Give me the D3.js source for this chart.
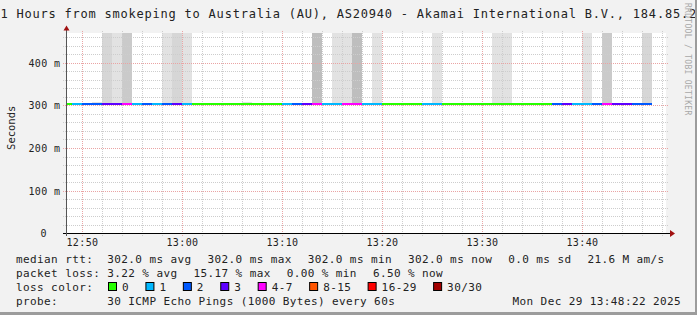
<!DOCTYPE html>
<html>
<head>
<meta charset="utf-8">
<title>smokeping</title>
<script src="https://cdn.jsdelivr.net/npm/d3@7"></script>
<style>
    body { margin: 0; background: #f2f2f2; }
    svg { display: block; font-family: "DejaVu Sans Mono", monospace; }
    text { white-space: pre; }
</style>
</head>
<body>
<svg id="chart" width="697" height="315"></svg>
<script>
// graph window
const startTime = new Date(2025, 11, 29, 12, 48, 22);
const endTime = new Date(2025, 11, 29, 13, 48, 22);

// one value per minute step, steps ending 12:49 ... 13:47
const firstStepEnd = new Date(2025, 11, 29, 12, 49);
const lastStepEnd = new Date(2025, 11, 29, 13, 47);

const medianRtt = [
    0.302, 0.302, 0.302, 0.302, 0.302, 0.302, 0.302, 0.302, 0.302, 0.302,
    0.302, 0.302, 0.302, 0.302, 0.302, 0.302, 0.302, 0.302, 0.302, 0.302,
    0.302, 0.302, 0.302, 0.302, 0.302, 0.302, 0.302, 0.302, 0.302, 0.302,
    0.302, 0.302, 0.302, 0.302, 0.302, 0.302, 0.302, 0.302, 0.302, 0.302,
    0.302, 0.302, 0.302, 0.302, 0.302, 0.302, 0.302, 0.302, 0.302, 0.302,
    0.302, 0.302, 0.302, 0.302, 0.302, 0.302, 0.302, 0.302, 0.302
];

// lost pings out of 30
const lossPings = [
    0, 1, 2, 2, 3, 3, 4, 1, 2, 1,
    2, 3, 1, 0, 0, 0, 0, 0, 0, 0,
    0, 0, 1, 2, 3, 5, 1, 1, 4, 4,
    1, 1, 0, 0, 0, 0, 1, 1, 0, 0,
    0, 0, 0, 0, 0, 0, 0, 0, 0, 2,
    3, 1, 1, 2, 4, 3, 3, 2, 2
];

// smoke: steps with spread pings, top of spread (s) and pings in it
const smokeSteps = ["12:52", "12:53", "12:54", "12:55", "12:59", "13:00", "13:01", "13:07", "13:14", "13:16",
                    "13:17", "13:18", "13:20", "13:26", "13:32", "13:33", "13:41", "13:43", "13:47"];
const smokeTop = [0.307, 0.9, 0.9, 0.9, 0.9, 0.9, 0.9, 0.307, 0.9, 0.9,
                  0.9, 0.9, 0.9, 0.9, 0.9, 0.9, 0.9, 0.9, 0.9];
const smokeCount = [1, 2, 1, 3, 1, 2, 1, 1, 4, 1,
                    1, 4, 1, 1, 1, 1, 1, 3, 2];

const yMax = 0.4695;
const yTicks = [0, 0.1, 0.2, 0.3, 0.4];
const yTickLabels = ["0", "100 m", "200 m", "300 m", "400 m"];

const lossThresholds = [1, 2, 3, 4, 8, 16, 30];
const lossLabels = ["0", "1", "2", "3", "4-7", "8-15", "16-29", "30/30"];
const lossColors = ["#26ff00", "#00b8ff", "#0059ff", "#5e00ff", "#ff00ff", "#ff5500", "#ff0000", "#a10000"];

const titleText = "1 Hours from smokeping to Australia (AU), AS20940 - Akamai International B.V., 184.85.2";
const rttLegend = ["median rtt:", "302.0 ms avg", "302.0 ms max", "302.0 ms min", "302.0 ms now", "0.0 ms sd", "21.6 M am/s"];
const lossLegend = ["packet loss:", "3.22 % avg", "15.17 % max", "0.00 % min", "6.50 % now"];
const probeLegend = ["probe:", "30 ICMP Echo Pings (1000 Bytes) every 60s"];
const dateText = "Mon Dec 29 13:48:22 2025";


/** Class drawing the smokeping graph. */
class SmokeGraph {
    /**
     * Creates the graph object
     */
    constructor() {
        this.svg = d3.select("svg#chart");
        this.left = 66;
        this.right = 666;
        this.top = 33;
        this.bottom = 233.3;
        this.x = d3.scaleTime().domain([startTime, endTime]).range([this.left, this.right]);
        this.y = d3.scaleLinear().domain([0, yMax]).range([this.bottom, this.top]);
        this.lossColor = d3.scaleThreshold().domain(lossThresholds).range(lossColors);
        this.steps = d3.timeMinute.range(firstStepEnd, d3.timeMinute.offset(lastStepEnd, 1));
        this.adv = 7.02; // legend character advance
    }

    /**
     * Turns "HH:MM" into a date of the graph day
     */
    stepDate(s) {
        let p = s.split(":");
        return new Date(2025, 11, 29, +p[0], +p[1]);
    }

    /**
     * Background, plot area and frame
     */
    drawFrame() {
        this.svg.append("rect").attr("width", 697).attr("height", 315).attr("fill", "#f2f2f2");
        this.svg.append("rect")
            .attr("x", this.left).attr("y", this.top)
            .attr("width", this.right - this.left).attr("height", this.bottom - this.top)
            .attr("fill", "#ffffff");
        this.svg.append("defs").append("clipPath").attr("id", "plot")
            .append("rect")
            .attr("x", this.left).attr("y", this.top)
            .attr("width", this.right - this.left).attr("height", this.bottom - this.top);
    }

    /**
     * Grey smoke columns above the median
     */
    drawSmoke() {
        let x = this.x, y = this.y;
        let shade = d3.scaleLinear().domain([1, 4]).range(["#e2e2e2", "#bebebe"]);
        let data = smokeSteps.map((s, i) => ({end: this.stepDate(s), top: smokeTop[i], n: smokeCount[i]}));
        this.svg.append("g").attr("clip-path", "url(#plot)")
            .selectAll("rect").data(data).enter()
            .append("rect")
            .attr("x", d => Math.round(x(d3.timeMinute.offset(d.end, -1))))
            .attr("width", d => Math.round(x(d.end)) - Math.round(x(d3.timeMinute.offset(d.end, -1))))
            .attr("y", d => Math.round(y(d.top)))
            .attr("height", d => Math.round(y(0.302)) - Math.round(y(d.top)))
            .attr("fill", d => shade(d.n));
    }

    /**
     * Dotted minor and major grid
     */
    drawGrid() {
        let g = this.svg.append("g");
        let x = this.x, y = this.y;
        let minorX = d3.timeMinute.every(2).range(startTime, endTime).filter(t => t.getMinutes() % 10 != 0);
        let majorX = d3.timeMinute.every(10).range(startTime, endTime);
        let minorY = d3.range(1, 24).map(i => i * 0.02).filter(v => Math.round(v * 100) % 10 != 0);

        g.selectAll(".minx").data(minorX).enter().append("line")
            .attr("x1", d => Math.round(x(d)) + 0.5).attr("x2", d => Math.round(x(d)) + 0.5)
            .attr("y1", 31).attr("y2", 236)
            .attr("stroke", "#cdcdcd").attr("stroke-dasharray", "1,1");
        g.selectAll(".miny").data(minorY).enter().append("line")
            .attr("y1", d => Math.round(y(d)) + 0.5).attr("y2", d => Math.round(y(d)) + 0.5)
            .attr("x1", 63).attr("x2", 669)
            .attr("stroke", "#cdcdcd").attr("stroke-dasharray", "1,1");
        g.selectAll(".majx").data(majorX).enter().append("line")
            .attr("x1", d => Math.round(x(d)) + 0.5).attr("x2", d => Math.round(x(d)) + 0.5)
            .attr("y1", 31).attr("y2", 236)
            .attr("stroke", "#eaa4a4").attr("stroke-dasharray", "1,1");
        g.selectAll(".majy").data(yTicks.slice(1)).enter().append("line")
            .attr("y1", d => Math.round(y(d)) + 0.5).attr("y2", d => Math.round(y(d)) + 0.5)
            .attr("x1", 63).attr("x2", 669)
            .attr("stroke", "#eaa4a4").attr("stroke-dasharray", "1,1");
    }

    /**
     * Median rtt line coloured by loss
     */
    drawMedian() {
        let x = this.x, y = this.y;
        let data = this.steps.map((t, i) => ({end: t, v: medianRtt[i], loss: lossPings[i]}));
        this.svg.append("g").attr("clip-path", "url(#plot)")
            .selectAll("rect").data(data).enter()
            .append("rect")
            .attr("x", d => Math.max(this.left, Math.round(x(d3.timeMinute.offset(d.end, -1)))))
            .attr("width", d => Math.round(x(d.end)) - Math.max(this.left, Math.round(x(d3.timeMinute.offset(d.end, -1)))))
            .attr("y", d => Math.round(y(d.v)) - 1)
            .attr("height", 2)
            .attr("fill", d => this.lossColor(d.loss));
    }

    /**
     * Axes, arrows and tick labels
     */
    drawAxes() {
        let x = this.x, y = this.y;
        let g = this.svg.append("g");
        g.append("line").attr("x1", 63).attr("x2", 671).attr("y1", 233.5).attr("y2", 233.5)
            .attr("stroke", "#000");
        g.append("line").attr("x1", 66.5).attr("x2", 66.5).attr("y1", 236).attr("y2", 29)
            .attr("stroke", "#555");
        g.append("path").attr("d", "M670,230L675,233.5L670,237Z").attr("fill", "#a11111");
        g.append("path").attr("d", "M63.5,30.5L66.5,25.5L69.5,30.5Z").attr("fill", "#a11111");

        let fmt = d3.timeFormat("%H:%M");
        g.selectAll(".xl").data(d3.timeMinute.every(10).range(startTime, endTime)).enter()
            .append("text")
            .attr("x", d => Math.round(x(d)) + 0.5).attr("y", 246)
            .attr("text-anchor", "middle")
            .attr("font-size", "10px").attr("letter-spacing", "0.4px").attr("fill", "#222")
            .text(d => fmt(d));

        g.selectAll(".yl").data(yTicks).enter()
            .append("text")
            .attr("x", (d, i) => i == 0 ? 47 : 60.5)
            .attr("y", d => Math.round(y(d)) + 4)
            .attr("text-anchor", "end")
            .attr("font-size", "10px").attr("letter-spacing", "0.4px").attr("fill", "#222")
            .text((d, i) => yTickLabels[i]);

        g.append("text")
            .attr("transform", "translate(15,127.8) rotate(-90)")
            .attr("text-anchor", "middle")
            .attr("font-size", "10.5px").attr("fill", "#222")
            .text("Seconds");
    }

    /**
     * Title, watermark and legend lines
     */
    drawText() {
        let adv = this.adv;
        this.svg.append("text")
            .attr("x", 0.5).attr("y", 18)
            .attr("font-size", "12px").attr("letter-spacing", "0.78px").attr("fill", "#222")
            .text(titleText);

        this.svg.append("text")
            .attr("transform", "translate(685,3) rotate(90)")
            .attr("font-size", "8px").attr("letter-spacing", "0.3px").attr("fill", "#a8a8a8")
            .text("RRDTOOL / TOBI OETIKER");

        let legend = this.svg.append("g")
            .attr("font-size", "11px").attr("letter-spacing", "0.4px").attr("fill", "#222");
        let x0 = 16, x1 = x0 + 13 * adv, gap = 16;

        let itemLine = (items, yy) => {
            legend.append("text").attr("x", x0).attr("y", yy).text(items[0]);
            let xx = x1;
            items.slice(1).forEach(s => {
                legend.append("text").attr("x", xx).attr("y", yy).text(s);
                xx += s.length * adv + gap;
            });
        };
        itemLine(rttLegend, 263);
        itemLine(lossLegend, 277);
        itemLine(probeLegend, 305);

        legend.append("text").attr("x", x0).attr("y", 291).text("loss color:");
        let bx = 108;
        lossLabels.forEach((s, i) => {
            legend.append("rect")
                .attr("x", bx + 0.5).attr("y", 282.5).attr("width", 8).attr("height", 8)
                .attr("fill", lossColors[i]).attr("stroke", "#000");
            legend.append("text").attr("x", bx + 14).attr("y", 291).text(s);
            bx += 14 + s.length * adv + 16.4;
        });

        legend.append("text").attr("x", 681 - dateText.length * adv).attr("y", 305).text(dateText);

        // frame shading bottom / right
        this.svg.append("rect").attr("x", 695).attr("y", 0).attr("width", 2).attr("height", 315).attr("fill", "#9c9c9c");
        this.svg.append("rect").attr("x", 0).attr("y", 312).attr("width", 697).attr("height", 3).attr("fill", "#9c9c9c");
    }

    /**
     * Renders everything
     */
    draw() {
        this.drawFrame();
        this.drawSmoke();
        this.drawGrid();
        this.drawMedian();
        this.drawAxes();
        this.drawText();
    }
}

let graph = new SmokeGraph();
graph.draw();
</script>
</body>
</html>
